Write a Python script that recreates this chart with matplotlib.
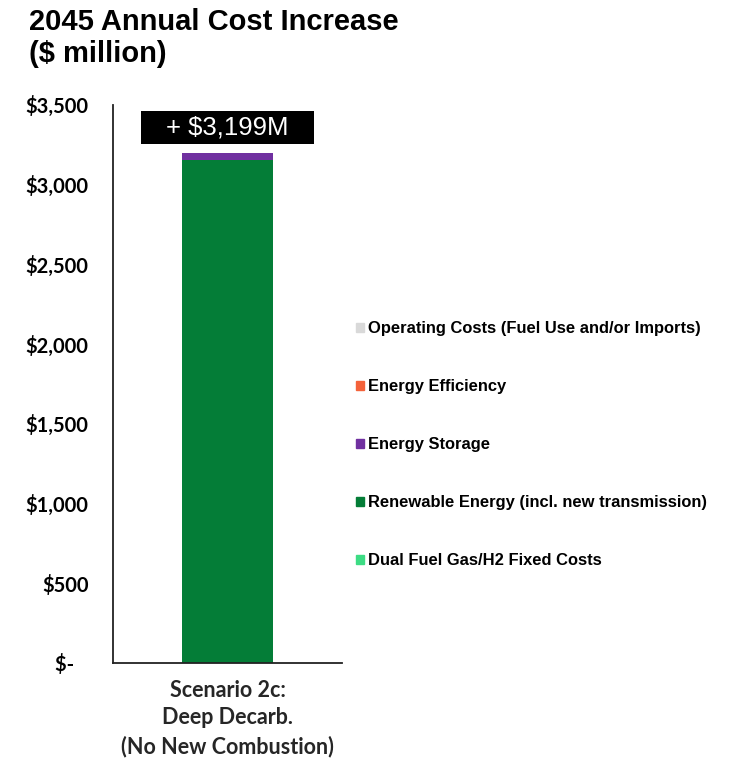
import matplotlib.pyplot as plt
from matplotlib.patches import Patch, Rectangle
from matplotlib.ticker import FuncFormatter

# 2045 annual cost increase by component, $ million
scenario = "Scenario 2c:\nDeep Decarb.\n(No New Combustion)"
components = ["Dual Fuel Gas/H2 Fixed Costs",
              "Renewable Energy (incl. new transmission)",
              "Energy Storage",
              "Energy Efficiency",
              "Operating Costs (Fuel Use and/or Imports)"]
values = [0, 3154, 45, 0, 0]
colors = ["#3ddc84", "#047d37", "#7030a0", "#f4623a", "#d9d9d9"]
total_label = "+ $3,199M"

fig = plt.figure(figsize=(7.35, 7.66), dpi=100)
ax = fig.add_axes([0.1537, 0.1345, 0.312, 0.7285])

bottom = 0
for name, val, col in zip(components, values, colors):
    ax.bar(0, val, width=0.4, bottom=bottom, color=col, label=name)
    bottom += val

# black call-out box with the total above the bar
ax.add_patch(Rectangle((-0.378, bottom + 57), 0.756, 207, facecolor="black",
                       edgecolor="none", clip_on=False))
ax.text(0, bottom + 160, total_label, ha="center", va="center",
        color="white", fontsize=18.5, family="Liberation Sans")

ax.set_xlim(-0.5, 0.5)
ax.set_ylim(0, 3500)
ax.set_yticks(range(0, 3501, 500))
ax.yaxis.set_major_formatter(FuncFormatter(
    lambda v, p: "$-   " if v == 0 else "${:,.0f}".format(v)))
ax.set_xticks([0])
ax.set_xticklabels([scenario], fontsize=15.5, fontweight="bold", family="Lato",
                   color="#262626", linespacing=1.4)
ax.tick_params(axis="y", length=0, pad=17.5, labelsize=14.5)
ax.tick_params(axis="x", length=0, pad=12)
for lbl in ax.get_yticklabels():
    lbl.set_fontweight("bold")
    lbl.set_family("Lato")
for side in ["top", "right"]:
    ax.spines[side].set_visible(False)
for side in ["left", "bottom"]:
    ax.spines[side].set_linewidth(1.3)
    ax.spines[side].set_color("#222222")

handles = [Patch(color=c, label=n) for n, c in zip(components, colors)][::-1]
fig.legend(handles=handles, loc="upper left", bbox_to_anchor=(0.4646, 0.6),
           frameon=False, handlelength=0.45, handleheight=0.45, handletextpad=0.25,
           labelspacing=2.6,
           prop={"family": "Liberation Sans", "weight": "bold", "size": 11.9})

fig.text(0.04, 0.99, "2045 Annual Cost Increase\n($ million)", ha="left",
         va="top", fontsize=21, fontweight="bold", family="Liberation Sans",
         linespacing=1.2)

fig.savefig("out.png", dpi=100)
